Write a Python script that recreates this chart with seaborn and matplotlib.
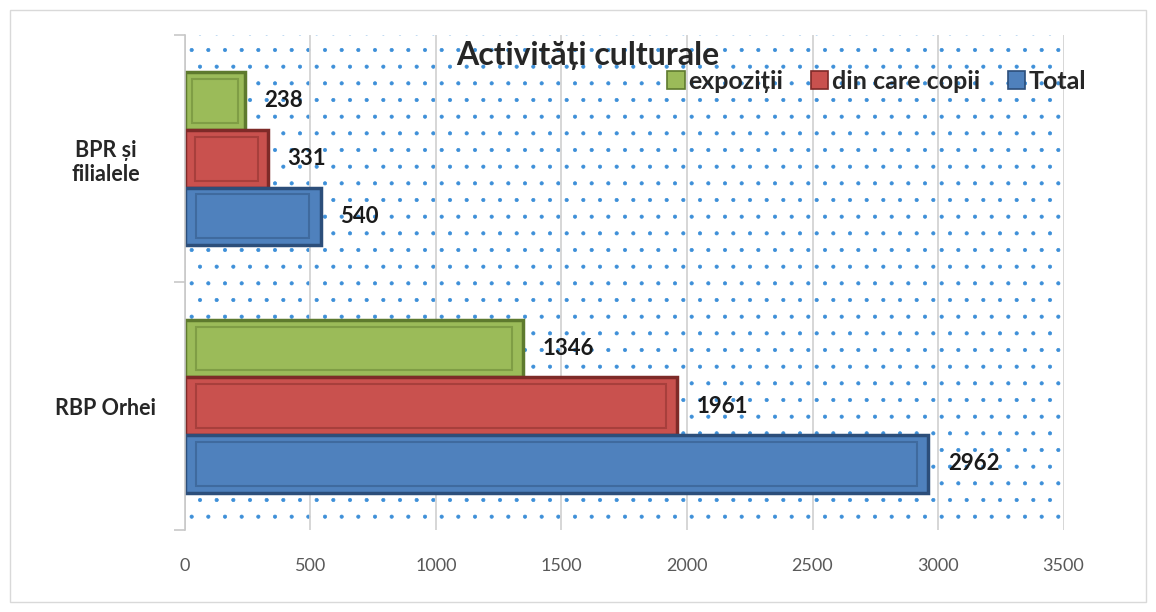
import matplotlib
matplotlib.use("Agg")
import matplotlib.pyplot as plt
import seaborn as sns
import pandas as pd
from matplotlib.patches import Rectangle

categorii = ["BPR și\nfilialele", "RBP Orhei"]
serii = ["expoziții", "din care copii", "Total"]
expozitii = [238, 1346]
copii = [331, 1961]
total = [540, 2962]
culori = ["#9BBB59", "#C9514E", "#4F81BD"]
margini = ["#5E7A2E", "#7E2A28", "#2C4E7A"]

df = pd.DataFrame({
    "categorie": categorii * 3,
    "serie": [serii[0]] * 2 + [serii[1]] * 2 + [serii[2]] * 2,
    "valoare": expozitii + copii + total,
})

sns.set_theme(style="white")
plt.rcParams["font.family"] = ["Lato", "DejaVu Sans"]
plt.rcParams["hatch.linewidth"] = 0.5

fig = plt.figure(figsize=(11.56, 6.12), dpi=100)
ax = fig.add_axes([0.160, 0.134, 0.760, 0.809])

# fundal punctat
ax.add_patch(Rectangle((0, 0), 1, 1, transform=ax.transAxes, facecolor="white",
                       edgecolor="#3d8fd8", hatch=".", lw=0, zorder=0.1))

sns.barplot(data=df, y="categorie", x="valoare", hue="serie", hue_order=serii,
            order=categorii, palette=culori, width=0.7, orient="h", ax=ax,
            saturation=1, legend=True)

# efect de relief: contur inchis + contur interior
for cont, edge in zip(ax.containers, margini):
    for p in cont:
        p.set_edgecolor(edge)
        p.set_linewidth(2.5)
        p.set_zorder(2)
        x0, y0 = p.get_x(), p.get_y()
        w, h = p.get_width(), p.get_height()
        dx = min(45, w * 0.12)
        dy = h * 0.12
        ax.add_patch(Rectangle((x0 + dx, y0 + dy), w - 2 * dx, h - 2 * dy,
                               fill=False, edgecolor=edge, lw=1.5, alpha=0.45, zorder=3))
    ax.bar_label(cont, padding=14, fontsize=16, fontweight="bold", color="#1a1a1a")

ax.set_xlim(0, 3500)
ax.set_ylim(1.5, -0.5)
ax.set_xticks(range(0, 3501, 500))
ax.grid(axis="x", color="#d0d0d0", lw=1.2, zorder=0.5)
ax.set_axisbelow(True)
ax.set_xlabel("")
ax.set_ylabel("")
ax.tick_params(axis="x", length=0, pad=20, labelsize=13, labelcolor="#595959")
ax.tick_params(axis="y", length=0, labelsize=15.5)
for lab in ax.get_yticklabels():
    lab.set_fontweight("bold")
    lab.set_horizontalalignment("center")
    lab.set_multialignment("center")
    lab.set_x(-0.085)
ax.set_yticks([-0.5, 0.5, 1.5], minor=True)
ax.tick_params(axis="y", which="minor", length=8, color="#c8c8c8", width=1.2, left=True)

for s in ["top", "right", "bottom"]:
    ax.spines[s].set_visible(False)
ax.spines["left"].set_color("#c8c8c8")
ax.spines["left"].set_linewidth(1.2)

leg = ax.legend(loc="upper right", bbox_to_anchor=(1.052, 0.975), ncol=3, frameon=False,
                handlelength=0.7, handleheight=0.7, handletextpad=0.15, columnspacing=1.1,
                prop={"size": 18, "weight": "bold"})
for h, edge in zip(leg.legend_handles, margini):
    h.set_edgecolor(edge)
    h.set_linewidth(1.2)

fig.text(0.508, 0.91, "Activități culturale", ha="center", va="center",
         fontsize=23, fontweight="bold")

fig.add_artist(Rectangle((0.009, 0.017), 0.982, 0.966, transform=fig.transFigure,
                         fill=False, edgecolor="#d9d9d9", lw=1))

fig.savefig("out.png", dpi=100)
